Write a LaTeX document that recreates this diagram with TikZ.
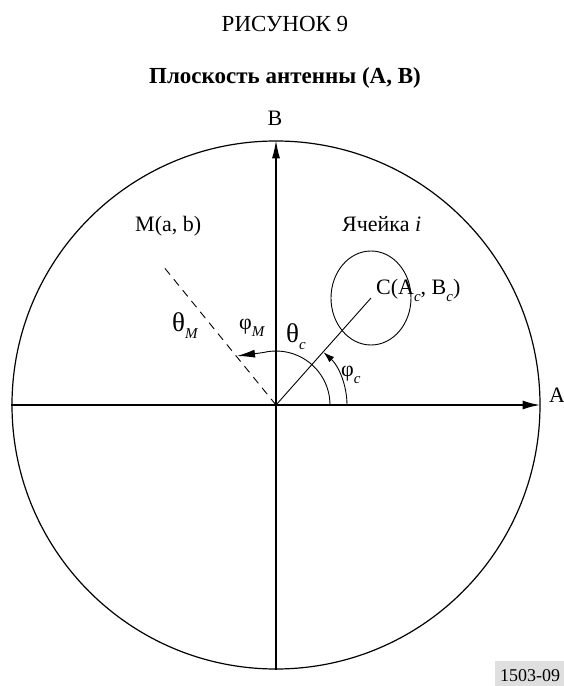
\documentclass[tikz,border=0pt]{standalone}
\usepackage{fontspec}
\setmainfont{Liberation Serif}
\usetikzlibrary{arrows.meta,calc}
\newcommand{\subit}[1]{\raisebox{-0.3em}{\fontsize{15}{15}\selectfont\itshape #1}}
\newcommand{\bigth}{{\fontsize{27}{27}\selectfont θ}}
\begin{document}
\begin{tikzpicture}[x=1pt,y=1pt,
  lbl/.style={font=\fontsize{22}{26}\selectfont, inner sep=0pt},
  ttl/.style={font=\fontsize{23}{27}\selectfont, inner sep=0pt},
  thinline/.style={line width=0.9pt},
  bigtip/.style={-{Latex[length=18pt,width=8pt]}},
  smalltip/.style={-{Latex[length=11pt,width=7pt]}}]
\useasboundingbox (0,0) rectangle (564,686);
% titles
\node[ttl, anchor=base] (t1) at (285,654) {РИСУНОК 9};
\node[ttl, anchor=base, font=\fontsize{23}{27}\selectfont\bfseries] (t2) at (285,602) {Плоскость антенны (A, B)};
% main circle and axes
\coordinate (O) at (276,281);
\node[draw, circle, minimum size=528pt, inner sep=0pt, line width=1.2pt] (disk) at (O) {};
\draw[line width=2.2pt, -{Latex[length=18pt,width=9pt]}] (disk.west) -- (disk.east);
\draw[line width=1.2pt, bigtip] (disk.south) -- (disk.north);
\node[lbl, anchor=base] (lb) at (275,560) {B};
\node[lbl, anchor=base west] (la) at (549,283) {A};
% cell
\coordinate (Cc) at (371,388);
\draw[thinline] (Cc) ellipse [x radius=40pt, y radius=47pt];
\draw[thinline] (O) -- (Cc);
\node[lbl, anchor=base west] (lc) at (376,391) {C(A\subit{c}, B\subit{c})};
\node[lbl, anchor=base west] (lcell) at (342,454) {Ячейка \textit{i}};
% M direction
\coordinate (Mend) at (163,420);
\draw[thinline, dash pattern=on 8pt off 6pt] (O) -- (Mend);
\node[lbl, anchor=base west] (lm) at (135,454) {M(a, b)};
% angles
\draw[thinline, smalltip] ($(O)+(71,0)$) arc[start angle=0, end angle=48, radius=71pt];
\coordinate (Mtip) at (237,330);
\draw[thinline, bigtip] ($(O)+(54,0)$) arc[start angle=0, end angle=104, radius=54pt] -- (Mtip);
\node[lbl, anchor=base west] (thm) at (172,354) {\bigth\subit{M}};
\node[lbl, anchor=base west] (phm) at (239,356) {φ\subit{M}};
\node[lbl, anchor=base west] (thc) at (286,343) {\bigth\subit{c}};
\node[lbl, anchor=base west] (phc) at (341,309) {φ\subit{c}};
% figure number
\fill[gray!25] (495,0) rectangle (564,25);
\node[anchor=base, inner sep=0pt, font=\fontsize{18}{20}\selectfont] (num) at (530,5) {1503-09};
\end{tikzpicture}
\end{document}
